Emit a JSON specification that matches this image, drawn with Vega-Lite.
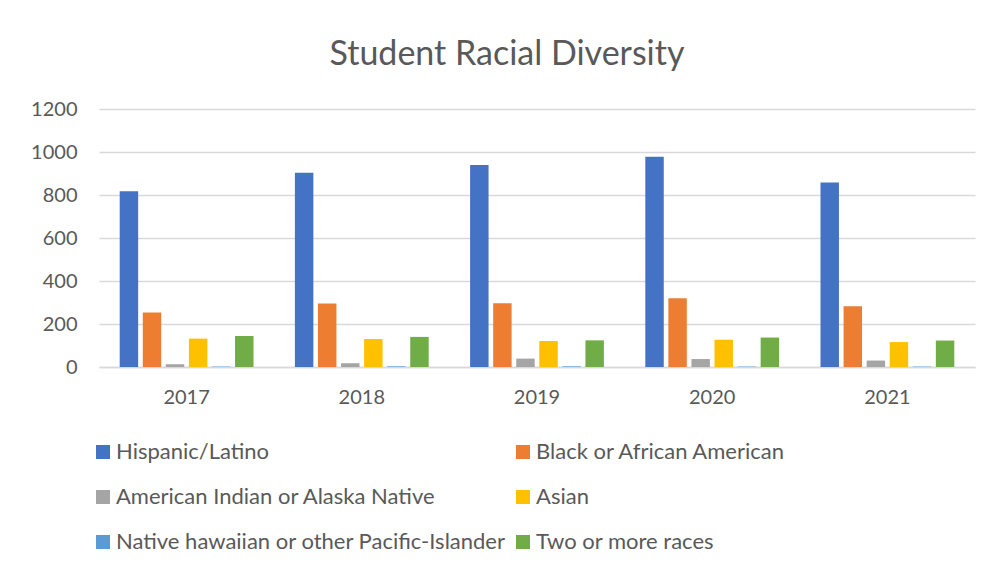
{
  "$schema": "https://vega.github.io/schema/vega-lite/v6.json",
  "autosize": {"type": "none"},
  "width": 876,
  "height": 258,
  "padding": {"left": 99, "top": 109, "right": 17, "bottom": 202},
  "background": "white",
  "title": {
    "text": "Student Racial Diversity",
    "font": "Lato",
    "fontSize": 34,
    "fontWeight": "normal",
    "color": "#595959",
    "anchor": "middle",
    "dx": -30,
    "offset": 27
  },
  "data": {
    "values": [
      {"year": "2017", "group": "Hispanic/Latino", "count": 818},
      {"year": "2017", "group": "Black or African American", "count": 254},
      {"year": "2017", "group": "American Indian or Alaska Native", "count": 13},
      {"year": "2017", "group": "Asian", "count": 132},
      {"year": "2017", "group": "Native hawaiian or other Pacific-Islander", "count": 2},
      {"year": "2017", "group": "Two or more races", "count": 144},
      {"year": "2018", "group": "Hispanic/Latino", "count": 904},
      {"year": "2018", "group": "Black or African American", "count": 295},
      {"year": "2018", "group": "American Indian or Alaska Native", "count": 17},
      {"year": "2018", "group": "Asian", "count": 130},
      {"year": "2018", "group": "Native hawaiian or other Pacific-Islander", "count": 3},
      {"year": "2018", "group": "Two or more races", "count": 140},
      {"year": "2019", "group": "Hispanic/Latino", "count": 940},
      {"year": "2019", "group": "Black or African American", "count": 296},
      {"year": "2019", "group": "American Indian or Alaska Native", "count": 39},
      {"year": "2019", "group": "Asian", "count": 121},
      {"year": "2019", "group": "Native hawaiian or other Pacific-Islander", "count": 3},
      {"year": "2019", "group": "Two or more races", "count": 124},
      {"year": "2020", "group": "Hispanic/Latino", "count": 978},
      {"year": "2020", "group": "Black or African American", "count": 320},
      {"year": "2020", "group": "American Indian or Alaska Native", "count": 37},
      {"year": "2020", "group": "Asian", "count": 127},
      {"year": "2020", "group": "Native hawaiian or other Pacific-Islander", "count": 2},
      {"year": "2020", "group": "Two or more races", "count": 137},
      {"year": "2021", "group": "Hispanic/Latino", "count": 858},
      {"year": "2021", "group": "Black or African American", "count": 282},
      {"year": "2021", "group": "American Indian or Alaska Native", "count": 30},
      {"year": "2021", "group": "Asian", "count": 116},
      {"year": "2021", "group": "Native hawaiian or other Pacific-Islander", "count": 2},
      {"year": "2021", "group": "Two or more races", "count": 123}
    ]
  },
  "mark": {"type": "bar"},
  "encoding": {
    "x": {
      "field": "year",
      "type": "nominal",
      "scale": {"paddingInner": 0.21, "paddingOuter": 0.105},
      "axis": {
        "title": null,
        "labelAngle": 0,
        "labelFont": "Lato",
        "labelFontSize": 20,
        "labelColor": "#595959",
        "labelPadding": 20,
        "ticks": false,
        "domainColor": "#d9d9d9",
        "domainWidth": 1.5,
        "grid": false
      }
    },
    "xOffset": {
      "field": "group",
      "type": "nominal",
      "sort": ["Hispanic/Latino", "Black or African American", "American Indian or Alaska Native", "Asian", "Native hawaiian or other Pacific-Islander", "Two or more races"],
      "scale": {"paddingInner": 0.2, "paddingOuter": 0.1}
    },
    "y": {
      "field": "count",
      "type": "quantitative",
      "scale": {"domain": [0, 1200]},
      "axis": {
        "title": null,
        "values": [0, 200, 400, 600, 800, 1000, 1200],
        "format": "d",
        "labelFont": "Lato",
        "labelFontSize": 20,
        "labelColor": "#595959",
        "labelPadding": 22,
        "ticks": false,
        "domain": false,
        "gridColor": "#d9d9d9",
        "gridWidth": 1.5
      }
    },
    "color": {
      "field": "group",
      "type": "nominal",
      "scale": {
        "domain": ["Hispanic/Latino", "Black or African American", "American Indian or Alaska Native", "Asian", "Native hawaiian or other Pacific-Islander", "Two or more races"],
        "range": ["#4472C4", "#ED7D31", "#A5A5A5", "#FFC000", "#5B9BD5", "#70AD47"]
      },
      "legend": {
        "title": null,
        "orient": "none",
        "legendX": -7,
        "legendY": 332,
        "direction": "horizontal",
        "columns": 2,
        "columnPadding": 6,
        "rowPadding": 23,
        "symbolType": "square",
        "symbolSize": 196,
        "symbolStrokeWidth": 0,
        "labelFont": "Lato",
        "labelFontSize": 22,
        "labelColor": "#595959",
        "labelOffset": 2,
        "labelLimit": 600
      }
    }
  },
  "config": {"view": {"stroke": null}}
}
